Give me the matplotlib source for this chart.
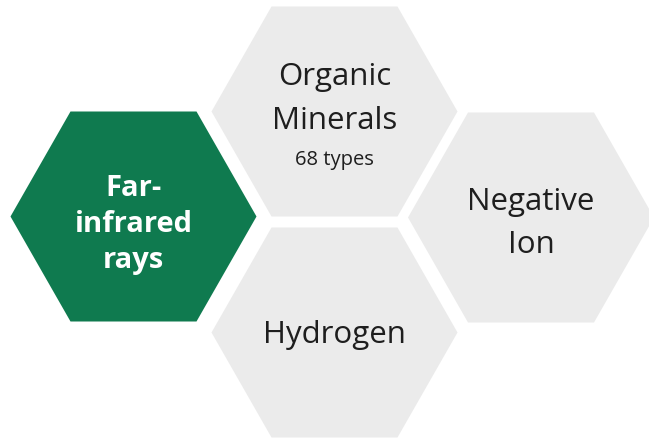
import matplotlib.pyplot as plt
from matplotlib.patches import Polygon

# hexagon layout (pixel coords of the 649x439 canvas, y down)
labels = [["Far-", "infrared", "rays"], ["Organic", "Minerals"], ["Hydrogen"], ["Negative", "Ion"]]
subtitles = ["", "68 types", "", ""]
center_x = [133.5, 334.5, 334.5, 531]
center_y = [217.5, 112.5, 333.5, 218.5]
fills = ["#0f7a4f", "#ebebeb", "#ebebeb", "#ebebeb"]
text_colors = ["white", "#1e1e1e", "#1e1e1e", "#1e1e1e"]

# vertical offsets of each text line from the hexagon centre
line_offsets = [[-29, 7, 43], [-35.5, 8.5], [2], [-16, 27]]
sub_offset = 47.5

HALF_W = 123
HALF_H = 105
EDGE = 63

fig = plt.figure(figsize=(6.49, 4.39), dpi=100)
ax = fig.add_axes([0, 0, 1, 1])
ax.set_xlim(0, 649)
ax.set_ylim(439, 0)
ax.axis("off")

for k, (cx, cy) in enumerate(zip(center_x, center_y)):
    pts = [(cx - HALF_W, cy), (cx - EDGE, cy - HALF_H), (cx + EDGE, cy - HALF_H),
           (cx + HALF_W, cy), (cx + EDGE, cy + HALF_H), (cx - EDGE, cy + HALF_H)]
    ax.add_patch(Polygon(pts, closed=True, facecolor=fills[k], edgecolor="none"))

    bold = k == 0
    size = 21 if bold else 22.5
    for line, off in zip(labels[k], line_offsets[k]):
        ax.text(cx, cy + off, line, ha="center", va="center",
                fontsize=size, fontweight="bold" if bold else "normal",
                family="Open Sans", color=text_colors[k])
    if subtitles[k]:
        ax.text(cx, cy + sub_offset, subtitles[k], ha="center",
                va="center", fontsize=14.5, family="Open Sans", color=text_colors[k])

fig.savefig("out.png", dpi=100, facecolor="white")
